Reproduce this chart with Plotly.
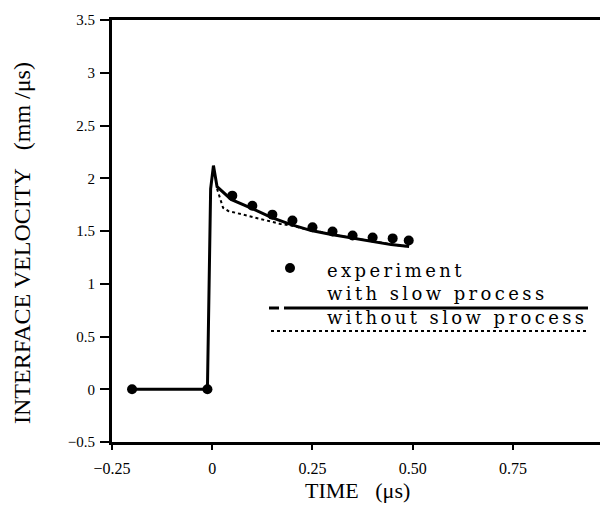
import plotly.graph_objects as go

# ---------------- data ----------------
exp_t = [-0.20, -0.012, 0.05, 0.10, 0.15, 0.20, 0.25, 0.30, 0.35, 0.40, 0.45, 0.49]
exp_v = [0.0, 0.0, 1.835, 1.74, 1.655, 1.60, 1.535, 1.495, 1.457, 1.438, 1.43, 1.41]

slow_t = [-0.20, -0.012, -0.004, 0.003, 0.012, 0.03, 0.047, 0.097, 0.147, 0.197, 0.247, 0.297, 0.347, 0.397, 0.446, 0.491]
slow_v = [0.0, 0.0, 1.90, 2.12, 1.92, 1.86, 1.80, 1.718, 1.629, 1.560, 1.504, 1.466, 1.434, 1.402, 1.371, 1.352]

noslow_t = [0.012, 0.027, 0.04, 0.07, 0.10, 0.14, 0.17, 0.20, 0.23, 0.26, 0.30, 0.35, 0.40, 0.45, 0.49]
noslow_v = [1.90, 1.72, 1.69, 1.66, 1.63, 1.59, 1.567, 1.55, 1.52, 1.50, 1.466, 1.434, 1.402, 1.371, 1.352]

x_ticks = [-0.25, 0, 0.25, 0.5, 0.75]
x_ticktext = ["\u22120.25", "0", "0.25", "0.50", "0.75"]
y_ticks = [-0.5, 0, 0.5, 1, 1.5, 2, 2.5, 3, 3.5]
y_ticktext = ["\u22120.5", "0", "0.5", "1", "1.5", "2", "2.5", "3", "3.5"]

legend_labels = ["experiment", "with slow process", "without slow process"]

# ---------------- figure ----------------
# page body has an 8px margin, so the figure is drawn 8px in from the window corner
OFF = 8
W, H = 600, 498
L, R, T, B = 104, 0, 12, 64
pw, ph = W - L - R, H - T - B

def px(x_page):
    return (x_page - OFF - L) / pw

def py(y_page):
    return (H - B - (y_page - OFF)) / ph

SERIF = "Liberation Serif"
fig = go.Figure()

fig.add_trace(go.Scatter(x=noslow_t, y=noslow_v, mode="lines",
                         line=dict(color="black", width=2, dash="dot"),
                         name=legend_labels[2], showlegend=False))
fig.add_trace(go.Scatter(x=slow_t, y=slow_v, mode="lines",
                         line=dict(color="black", width=3),
                         name=legend_labels[1], showlegend=False))
fig.add_trace(go.Scatter(x=exp_t, y=exp_v, mode="markers",
                         marker=dict(color="black", size=10),
                         name=legend_labels[0], showlegend=False))

shapes = []
# legend marker
shapes.append(dict(type="circle", xref="paper", yref="paper",
                   x0=px(285), x1=px(295), y0=py(273), y1=py(263),
                   fillcolor="black", line=dict(color="black", width=0)))
# with slow process line (dash + solid)
shapes.append(dict(type="line", xref="paper", yref="paper",
                   x0=px(269), x1=px(279), y0=py(308), y1=py(308),
                   line=dict(color="black", width=3)))
shapes.append(dict(type="line", xref="paper", yref="paper",
                   x0=px(284), x1=px(588), y0=py(308), y1=py(308),
                   line=dict(color="black", width=3)))
# without slow process dotted line
shapes.append(dict(type="line", xref="paper", yref="paper",
                   x0=px(271), x1=px(587), y0=py(331), y1=py(331),
                   line=dict(color="black", width=2, dash="dot")))

legend_text = "<br>".join(
    '<span style="letter-spacing:3.4px">%s</span>' % s for s in legend_labels)

annotations = [
    dict(text=legend_text, xref="paper", yref="paper", x=px(325), y=py(294),
         xanchor="left", yanchor="middle", align="left", showarrow=False,
         font=dict(family="DejaVu Serif", size=18, color="black")),
    dict(text="TIME\u00a0\u00a0\u00a0(\u03bcs)", xref="paper", yref="paper",
         x=px(357), y=py(490), xanchor="center", yanchor="middle", showarrow=False,
         font=dict(family=SERIF, size=22, color="black")),
    dict(text="INTERFACE VELOCITY\u00a0\u00a0\u00a0(mm /\u03bcs)", xref="paper", yref="paper",
         x=px(22), y=py(243), xanchor="center", yanchor="middle", showarrow=False,
         textangle=-90, font=dict(family=SERIF, size=24, color="black")),
]

fig.update_layout(
    width=W, height=H,
    margin=dict(l=L, r=R, t=T, b=B, pad=0),
    paper_bgcolor="white", plot_bgcolor="white",
    shapes=shapes, annotations=annotations,
    showlegend=False,
    font=dict(family=SERIF, color="black"),
)
fig.update_xaxes(range=[-0.25, 0.987], tickvals=x_ticks, ticktext=x_ticktext,
                 showgrid=False, zeroline=False, showline=True, linecolor="black",
                 linewidth=3, mirror=True, ticks="outside", ticklen=5, tickwidth=1.5,
                 tickcolor="black", tickfont=dict(family=SERIF, size=16, color="black"),
                 ticklabelstandoff=5)
fig.update_yaxes(range=[-0.5, 3.5], tickvals=y_ticks, ticktext=y_ticktext,
                 showgrid=False, zeroline=False, showline=True, linecolor="black",
                 linewidth=3, mirror=False, ticks="outside", ticklen=9, tickwidth=1.5,
                 tickcolor="black", tickfont=dict(family=SERIF, size=15, color="black"),
                 ticklabelstandoff=2)

fig.write_html("out.html")
